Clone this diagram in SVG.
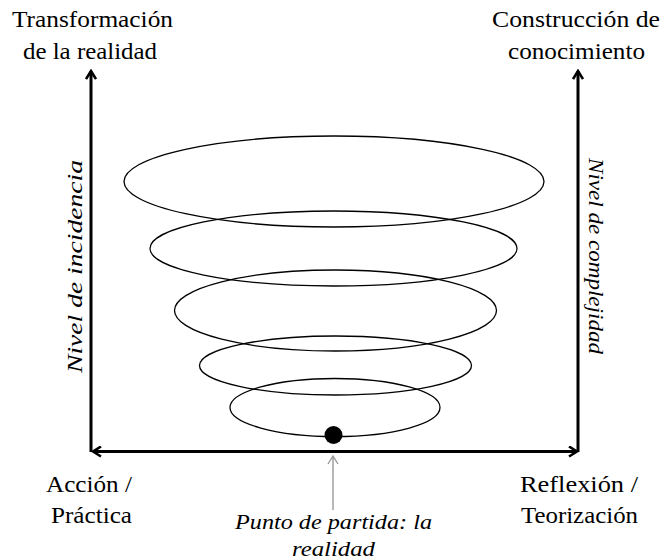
<svg xmlns="http://www.w3.org/2000/svg" width="665" height="560" viewBox="0 0 665 560">
<defs>
<marker id="ah" viewBox="0 0 12 12" refX="10" refY="6" markerWidth="12" markerHeight="12" markerUnits="userSpaceOnUse" orient="auto-start-reverse">
<path d="M2,1 L10,6 L2,11" fill="none" stroke="#000" stroke-width="2.6"/>
</marker>
<marker id="gh" viewBox="0 0 12 12" refX="10" refY="6" markerWidth="12" markerHeight="12" markerUnits="userSpaceOnUse" orient="auto">
<path d="M2,1 L10,6 L2,11" fill="none" stroke="#999" stroke-width="1.4"/>
</marker>
</defs>
<style>
.t{font-family:"Liberation Serif","Times New Roman",serif;font-size:23px;fill:#000}
.i{font-family:"Liberation Serif","Times New Roman",serif;font-size:21px;font-style:italic;fill:#000}
.ax{stroke:#000;stroke-width:3;fill:none}
.el{fill:none;stroke:#000;stroke-width:1.3}
</style>
<rect width="665" height="560" fill="#fff"/>
<g id="connectors">
<line class="ax" x1="91" y1="452" x2="91" y2="71" marker-end="url(#ah)"/>
<line class="ax" x1="578" y1="452" x2="578" y2="71" marker-end="url(#ah)"/>
<line class="ax" x1="93" y1="451.5" x2="577" y2="451.5" marker-start="url(#ah)" marker-end="url(#ah)"/>
<line x1="333" y1="510" x2="333" y2="456" stroke="#999" stroke-width="1.4" marker-end="url(#gh)"/>
</g>
<g id="spiral">
<ellipse class="el" cx="334" cy="181.5" rx="210" ry="45.5"/>
<ellipse class="el" cx="333.5" cy="248.5" rx="183.5" ry="37.5"/>
<ellipse class="el" cx="335.5" cy="310.5" rx="161" ry="40.5"/>
<ellipse class="el" cx="335.5" cy="365.5" rx="136" ry="29.5"/>
<ellipse class="el" cx="335" cy="407.5" rx="105" ry="29"/>
</g>
<g id="start-point"><circle cx="333.5" cy="435" r="9" fill="#000"/></g>
<g id="label-top-left">
<text class="t" x="12" y="27" textLength="161" lengthAdjust="spacingAndGlyphs">Transformación</text>
<text class="t" x="23" y="59" textLength="134" lengthAdjust="spacingAndGlyphs">de la realidad</text>
</g>
<g id="label-top-right">
<text class="t" x="492" y="27" textLength="168" lengthAdjust="spacingAndGlyphs">Construcción de</text>
<text class="t" x="508" y="59" textLength="137" lengthAdjust="spacingAndGlyphs">conocimiento</text>
</g>
<g id="label-bottom-left">
<text class="t" x="46" y="492" textLength="86" lengthAdjust="spacingAndGlyphs">Acción /</text>
<text class="t" x="51" y="523" textLength="81" lengthAdjust="spacingAndGlyphs">Práctica</text>
</g>
<g id="label-bottom-right">
<text class="t" x="520" y="492" textLength="118" lengthAdjust="spacingAndGlyphs">Reflexión  /</text>
<text class="t" x="521" y="523" textLength="117" lengthAdjust="spacingAndGlyphs">Teorización</text>
</g>
<g id="label-left-axis">
<text class="i" transform="translate(82,373) rotate(-90)" textLength="213" lengthAdjust="spacingAndGlyphs">Nivel de incidencia</text>
</g>
<g id="label-right-axis">
<text class="i" transform="translate(589,158) rotate(90)" textLength="196" lengthAdjust="spacingAndGlyphs">Nivel de complejidad</text>
</g>
<g id="label-start">
<text class="i" x="235" y="529" textLength="197" lengthAdjust="spacingAndGlyphs">Punto de partida: la</text>
<text class="i" x="292" y="556" textLength="83" lengthAdjust="spacingAndGlyphs">realidad</text>
</g>
</svg>
